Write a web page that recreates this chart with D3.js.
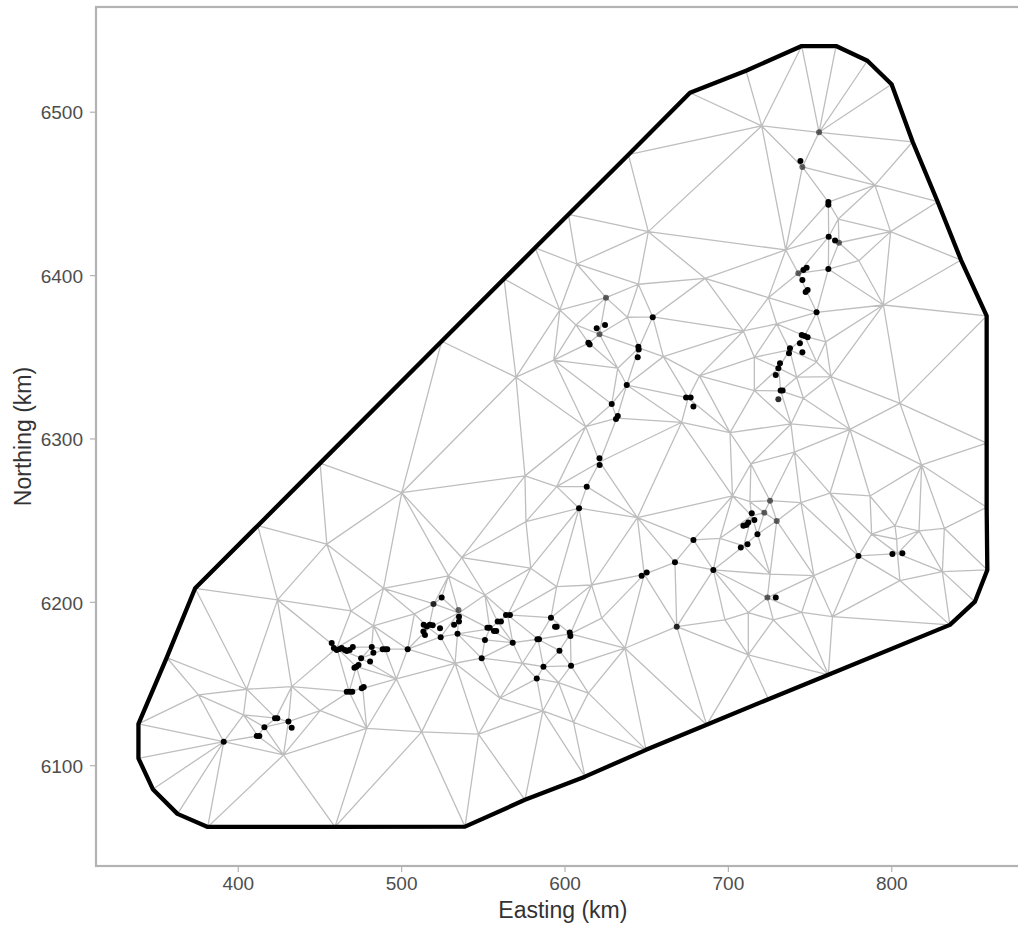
<!DOCTYPE html>
<html>
<head>
<meta charset="utf-8">
<script src="https://cdn.jsdelivr.net/npm/d3@7"></script>
<style>
  body { margin: 0; background: #fff; }
  svg { display: block; font-family: "Liberation Sans", Arial, sans-serif; }
</style>
</head>
<body>
<script>
// mesh boundary (km), in order round the hull
var hullPts = [
  [381.6,6062.2],[363.1,6070.2],[348.0,6085.3],[339.2,6104.2],[339.2,6125.3],[356.5,6165.9],
  [373.9,6208.3],[412.2,6246.6],[450.4,6284.9],[524.8,6359.5],[563.0,6397.7],[582.0,6416.7],
  [602.4,6437.1],[639.1,6473.7],[676.8,6511.6],[711.1,6525.1],[745.2,6540.2],[766.2,6540.2],
  [785.4,6531.2],[800.2,6516.8],[813.1,6481.6],[828.4,6444.9],[842.7,6409.2],[858.4,6375.0],
  [858.4,6297.1],[858.4,6257.9],[858.8,6219.5],[851.2,6200.1],[835.9,6185.9],[761.5,6155.3],
  [724.8,6140.4],[687.0,6124.7],[649.9,6109.4],[612.5,6093.0],[575.8,6078.8],[539.1,6062.4],
  [459.5,6062.2]
];

// interior mesh nodes (km)
var meshPts = [
  [607.5,6406.8],[651.3,6426.6],[645.2,6394.4],[686.0,6398.0],[625.4,6386.2],[720.7,6491.3],
  [755.8,6487.4],[745.6,6466.2],[790.0,6455.1],[761.5,6444.6],[767.6,6434.3],[799.6,6426.6],
  [768.0,6419.8],[761.7,6423.5],[735.4,6415.4],[780.2,6408.8],[761.5,6403.7],[743.1,6401.1],
  [724.8,6386.2],[795.2,6381.7],
  [597.1,6378.6],[607.0,6369.5],[621.4,6363.8],[593.4,6348.0],[570.3,6337.5],[638.5,6374.2],
  [632.6,6343.0],[660.5,6350.1],[638.1,6332.7],[613.0,6307.2],[682.6,6338.3],[671.7,6309.9],
  [575.8,6277.1],[595.2,6270.5],[613.6,6270.5],[608.9,6257.3],[576.4,6249.1],[644.6,6251.5],
  [678.9,6237.9],[537.1,6227.1],[667.6,6224.2],[500.4,6266.8],[454.5,6235.3],[621.5,6285.6],
  [628.9,6321.1],[632.0,6312.5],[645.5,6355.4],[654.0,6374.4],[614.8,6358.4],[675.7,6324.8],
  [754.3,6377.2],[729.9,6370.1],[709.5,6365.8],[747.0,6362.7],[759.9,6359.1],[737.8,6354.2],
  [716.2,6349.7],[754.3,6346.8],[731.1,6343.1],[742.1,6337.5],[763.1,6337.8],[716.2,6329.3],
  [732.3,6329.1],[746.2,6324.6],[805.3,6321.5],[738.6,6308.9],[701.3,6303.6],[774.7,6305.6],
  [740.7,6291.6],[714.1,6284.4],[818.6,6283.8],[702.8,6264.8],[713.5,6261.3],[725.8,6261.9],
  [744.7,6260.7],[762.5,6266.5],[722.3,6254.6],[729.9,6249.5],[714.6,6252.6],[787.0,6264.8],
  [802.3,6246.5],[817.0,6243.4],[832.5,6245.0],[788.0,6241.4],[803.3,6238.3],[695.2,6238.9],
  [779.9,6228.1],[803.8,6229.5],[718.1,6241.4],[709.7,6234.2],
  [691.1,6219.5],[725.8,6216.9],[752.7,6216.0],[805.3,6213.0],[831.3,6218.5],[724.2,6202.6],
  [712.5,6193.4],[727.8,6188.9],[745.2,6193.6],[698.2,6188.9],[764.0,6190.9],[712.5,6167.5],
  [529.0,6215.9],[579.3,6220.6],[551.3,6204.2],[595.2,6209.3],[616.6,6210.3],[648.8,6216.8],
  [668.7,6184.8],[524.8,6202.6],[535.3,6193.2],[520.0,6198.7],[591.7,6190.3],[622.8,6190.0],
  [603.6,6180.4],[583.8,6177.1],[568.3,6175.0],[549.3,6165.5],[533.0,6162.4],[574.2,6162.4],
  [587.1,6160.3],[604.0,6160.8],[583.0,6153.0],[596.9,6170.1],[637.0,6171.6],[560.5,6141.0],
  [596.3,6150.6],[614.6,6144.1],[586.7,6133.2],[605.5,6126.3],[547.3,6119.0],[512.6,6120.4],
  [559.1,6187.7],[565.2,6192.0],[554.2,6183.4],[551.3,6176.7],[516.9,6184.0],[524.2,6178.5],
  [534.5,6180.4],
  [424.3,6201.2],[469.3,6194.4],[489.2,6208.3],[483.0,6185.3],[508.1,6192.6],[460.6,6171.8],
  [482.0,6172.4],[490.1,6171.0],[504.0,6171.0],[475.5,6165.5],[472.6,6160.3],[497.1,6152.8],
  [476.5,6147.1],[468.2,6145.0],[433.0,6148.1],[405.5,6146.5],[375.9,6143.0],[450.4,6133.4],
  [403.5,6130.8],[423.3,6128.8],[431.0,6126.7],[416.3,6123.3],[412.2,6117.9],[478.9,6122.6],
  [428.0,6106.3],[391.4,6114.4]
];

// observation sites (km) and how many records sit on each
var obsPts = [
  [625.4,6386.2],[755.8,6487.4],[744.4,6469.8],[745.6,6466.2],[761.5,6444.8],[761.5,6443.0],
  [761.7,6423.5],[765.6,6421.1],[768.0,6419.8],[761.5,6403.7],[748.2,6404.5],[746.2,6403.1],
  [743.1,6401.1],[745.6,6397.0],[748.8,6390.9],[747.6,6389.7],[654.0,6374.2],[619.7,6367.4],
  [624.8,6369.5],[621.4,6363.8],[614.6,6358.6],[615.4,6357.5],[645.2,6356.2],[645.4,6354.5],
  [644.8,6349.7],[638.1,6332.7],[628.9,6321.1],[632.6,6313.8],[631.5,6311.9],[674.4,6325.0],
  [677.2,6325.0],[678.9,6319.5],[621.4,6287.9],[621.5,6283.8],[613.6,6270.5],[608.9,6257.3],
  [678.9,6237.9],[667.6,6224.2],[754.3,6377.2],[745.2,6363.3],[747.0,6362.7],[748.8,6361.9],
  [744.1,6358.3],[738.0,6355.2],[737.4,6352.1],[745.6,6352.8],[731.9,6346.0],[730.9,6343.0],
  [729.3,6338.9],[732.3,6329.3],[733.5,6329.3],[730.9,6324.0],[725.8,6261.9],[722.3,6254.6],
  [729.9,6249.5],[714.6,6254.2],[716.2,6250.1],[712.5,6248.5],[709.5,6246.5],[711.3,6247.1],
  [718.1,6241.4],[712.0,6235.3],[707.9,6233.2],[779.9,6228.1],[800.7,6229.3],[806.8,6229.7],
  [691.1,6219.5],[724.2,6202.6],[729.3,6202.6],[524.8,6202.6],[519.8,6198.7],[535.1,6195.0],
  [535.4,6190.9],[535.4,6187.9],[532.4,6185.9],[523.8,6183.8],[513.8,6185.9],[515.7,6184.9],
  [517.5,6185.9],[519.3,6185.6],[513.6,6181.8],[514.6,6179.7],[524.2,6178.3],[534.5,6180.4],
  [564.2,6192.0],[566.6,6192.0],[559.1,6187.9],[561.1,6187.9],[552.8,6184.2],[554.2,6184.2],
  [556.8,6182.2],[558.2,6182.2],[551.3,6176.7],[568.3,6175.0],[549.3,6165.5],[583.4,6177.1],
  [584.4,6177.1],[591.7,6190.3],[594.2,6184.8],[595.2,6184.8],[603.2,6181.2],[603.6,6179.1],
  [596.9,6170.1],[587.1,6160.3],[604.0,6160.8],[583.0,6153.0],[647.2,6215.9],[650.3,6217.9],
  [668.7,6184.8],[457.5,6174.8],[458.8,6171.7],[460.6,6170.5],[462.4,6171.2],[463.6,6171.7],
  [465.5,6170.5],[466.7,6169.9],[468.5,6170.5],[470.4,6172.4],[482.0,6172.4],[483.0,6168.9],
  [488.7,6171.0],[490.1,6171.0],[491.5,6171.0],[504.0,6171.0],[475.5,6165.5],[481.0,6163.4],
  [473.9,6161.4],[472.6,6160.3],[471.4,6159.7],[475.9,6147.1],[477.1,6147.9],[466.7,6145.0],
  [468.5,6145.0],[470.1,6145.0],[422.8,6128.8],[424.2,6128.8],[431.0,6126.7],[433.0,6123.0],
  [416.3,6123.3],[411.6,6117.9],[413.2,6117.9],[391.4,6114.4]
];
var obsCount = [
  1,1,3,1,3,3, 3,3,1,3,3,3, 1,3,3,3,3,3, 3,1,3,3,3,3, 3,3,3,3,3,3,
  3,3,3,3,3,3, 3,3,3,3,3,3, 3,3,3,3,3,3, 3,3,3,2,1,1, 1,3,3,3,3,3,
  3,3,3,3,3,3, 3,1,3,3,2,1, 3,3,3,3,3,3, 3,3,3,3,3,3, 3,3,3,3,3,3,
  3,3,3,3,3,3, 3,3,3,3,3,3, 3,3,3,3,3,3, 2,3,3,3,3,3, 3,3,3,3,3,3,
  3,3,3,3,3,3, 3,3,3,3,3,3, 3,3,3,3,3,3, 3,3,3,3
];

var xTicks = [400, 500, 600, 700, 800];
var yTicks = [6100, 6200, 6300, 6400, 6500];

var width = 1018, height = 926;
var margin = { left: 96, top: 7, bottom: 866 };

var svg = d3.select("body")
  .append("svg")
  .attr("width", width)
  .attr("height", height);

// equal-scale axes, 5% padding round the boundary
var ex = d3.extent(hullPts, function (d) { return d[0]; }),
    ey = d3.extent(hullPts, function (d) { return d[1]; });
var px = (ex[1] - ex[0]) * 0.05, py = (ey[1] - ey[0]) * 0.05;
var xDom = [ex[0] - px, ex[1] + px], yDom = [ey[0] - py, ey[1] + py];
var k = (margin.bottom - margin.top) / (yDom[1] - yDom[0]);

var x = d3.scaleLinear().domain(xDom).range([margin.left, margin.left + k * (xDom[1] - xDom[0])]);
var y = d3.scaleLinear().domain(yDom).range([margin.bottom, margin.top]);
var right = x.range()[1];

var hullLine = d3.line()
  .x(function (d) { return x(d[0]); })
  .y(function (d) { return y(d[1]); })
  .curve(d3.curveLinearClosed);

svg.append("clipPath")
  .attr("id", "hullclip")
  .append("path")
  .attr("d", hullLine(hullPts));

// triangulation of the mesh nodes
var nodes = hullPts.concat(meshPts);
var delaunay = d3.Delaunay.from(nodes, function (d) { return x(d[0]); }, function (d) { return y(d[1]); });

svg.append("path")
  .attr("clip-path", "url(#hullclip)")
  .attr("d", delaunay.render())
  .attr("fill", "none")
  .attr("stroke", "#bebebe")
  .attr("stroke-width", 1.3);

svg.append("path")
  .attr("d", hullLine(hullPts))
  .attr("fill", "none")
  .attr("stroke", "#000")
  .attr("stroke-width", 4.3)
  .attr("stroke-linejoin", "round");

var alpha = [0, 0.58, 0.82, 1];
svg.append("g")
  .selectAll("circle")
  .data(obsPts)
  .enter().append("circle")
  .attr("cx", function (d) { return x(d[0]); })
  .attr("cy", function (d) { return y(d[1]); })
  .attr("r", 3)
  .attr("fill", "#000")
  .attr("fill-opacity", function (d, i) { return alpha[obsCount[i]]; });

// panel border
svg.append("rect")
  .attr("x", margin.left)
  .attr("y", margin.top)
  .attr("width", right - margin.left)
  .attr("height", margin.bottom - margin.top)
  .attr("fill", "none")
  .attr("stroke", "#b3b3b3")
  .attr("stroke-width", 2.2);

var xAxis = svg.append("g")
  .attr("transform", "translate(0," + (margin.bottom + 1) + ")")
  .call(d3.axisBottom(x).tickValues(xTicks).tickFormat(d3.format("d")).tickSize(5).tickPadding(5));
var yAxis = svg.append("g")
  .attr("transform", "translate(" + (margin.left - 1) + ",0)")
  .call(d3.axisLeft(y).tickValues(yTicks).tickFormat(d3.format("d")).tickSize(5).tickPadding(7));

[xAxis, yAxis].forEach(function (g) {
  g.select(".domain").remove();
  g.selectAll(".tick line").attr("stroke", "#b3b3b3").attr("stroke-width", 1.2);
  g.selectAll(".tick text")
    .attr("fill", "#4d4d4d")
    .style("font-size", "19px")
    .style("font-family", "'Liberation Sans', Arial, sans-serif");
});
yAxis.selectAll(".tick text").attr("dy", "0.38em");

svg.append("text")
  .attr("x", (margin.left + right) / 2)
  .attr("y", 918)
  .attr("text-anchor", "middle")
  .attr("fill", "#333")
  .style("font-size", "23px")
  .text("Easting (km)");

svg.append("text")
  .attr("transform", "translate(31," + ((margin.top + margin.bottom) / 2) + ") rotate(-90)")
  .attr("text-anchor", "middle")
  .attr("fill", "#333")
  .style("font-size", "23px")
  .text("Northing (km)");
</script>
</body>
</html>
